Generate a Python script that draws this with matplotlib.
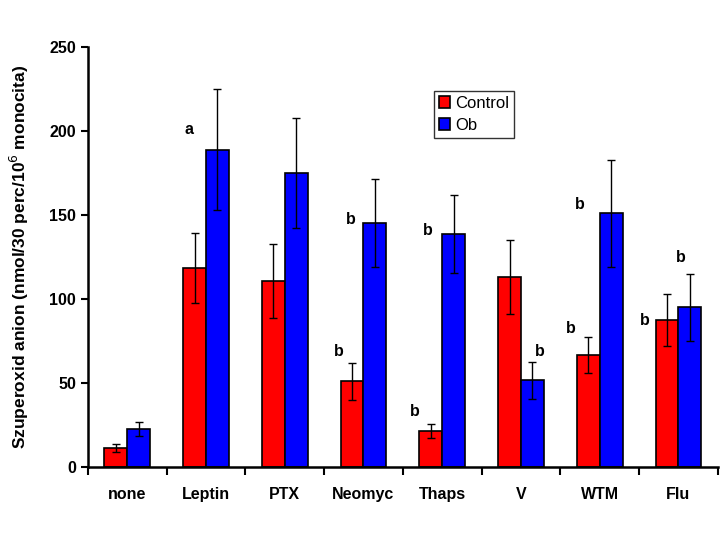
import numpy as np
import matplotlib.pyplot as plt

plt.rcParams['font.family'] = ['Liberation Sans', 'DejaVu Sans']

categories = ['none', 'Leptin', 'PTX', 'Neomyc', 'Thaps', 'V', 'WTM', 'Flu']
control = [11.3, 118.5, 110.7, 51.2, 21.4, 113.0, 66.7, 87.5]
control_err = [2.4, 21.0, 22.0, 11.0, 4.0, 22.0, 11.0, 15.5]
ob = [22.6, 188.7, 175.0, 145.2, 138.7, 51.8, 151.0, 95.0]
ob_err = [4.0, 36.0, 33.0, 26.0, 23.0, 11.0, 32.0, 20.0]

# significance letters: (text, x, y)
letters = [('a', 0.78, 200.6),
           ('b', 2.69, 69), ('b', 2.84, 147.6),
           ('b', 3.65, 33), ('b', 3.82, 141),
           ('b', 5.24, 69),
           ('b', 5.63, 82.7), ('b', 5.75, 156.5),
           ('b', 6.57, 87), ('b', 7.03, 125)]

fig = plt.figure(figsize=(7.2, 5.4), dpi=100)
ax = fig.add_axes([0.122, 0.135, 0.875, 0.778])

x = np.arange(len(categories))
w = 0.29
errkw = dict(ecolor='black', elinewidth=1, capsize=3, capthick=1)
ax.bar(x - w / 2, control, w, yerr=control_err, color='#ff0000',
       edgecolor='black', linewidth=1.2, label='Control', error_kw=errkw)
ax.bar(x + w / 2, ob, w, yerr=ob_err, color='#0000ff',
       edgecolor='black', linewidth=1.2, label='Ob', error_kw=errkw)

for t, tx, ty in letters:
    ax.text(tx, ty, t, ha='center', va='center', fontsize=11.5, fontweight='bold')

ax.set_xlim(-0.5, len(categories) - 0.5)
ax.set_ylim(0, 250)
ax.set_yticks([0, 50, 100, 150, 200, 250])
ax.set_xticks(x)
ax.set_xticklabels(categories, fontsize=11.5, fontweight='bold')
ax.set_xticks(np.arange(len(categories) + 1) - 0.5, minor=True)
ax.tick_params(axis='x', which='major', length=0, pad=14)
ax.tick_params(axis='x', which='minor', length=6, width=1.5, direction='out')
ax.tick_params(axis='y', length=5, width=1.5, labelsize=11.5)
for lab in ax.get_yticklabels():
    lab.set_fontweight('bold')

ax.spines['top'].set_visible(False)
ax.spines['right'].set_visible(False)
ax.spines['left'].set_linewidth(1.8)
ax.spines['bottom'].set_linewidth(1.8)

ax.set_ylabel('Szuperoxid anion (nmol/30 perc/10$^6$ monocita)',
              fontsize=12.5, fontweight='bold', labelpad=13)

leg = ax.legend(loc='upper left', bbox_to_anchor=(0.549, 0.895), fontsize=12,
                frameon=True, fancybox=False, handlelength=0.7,
                handleheight=0.7, handletextpad=0.3, borderpad=0.3,
                labelspacing=0.4, borderaxespad=0)
leg.get_frame().set_edgecolor('black')
leg.get_frame().set_linewidth(1)

fig.savefig('out.png', dpi=100)
